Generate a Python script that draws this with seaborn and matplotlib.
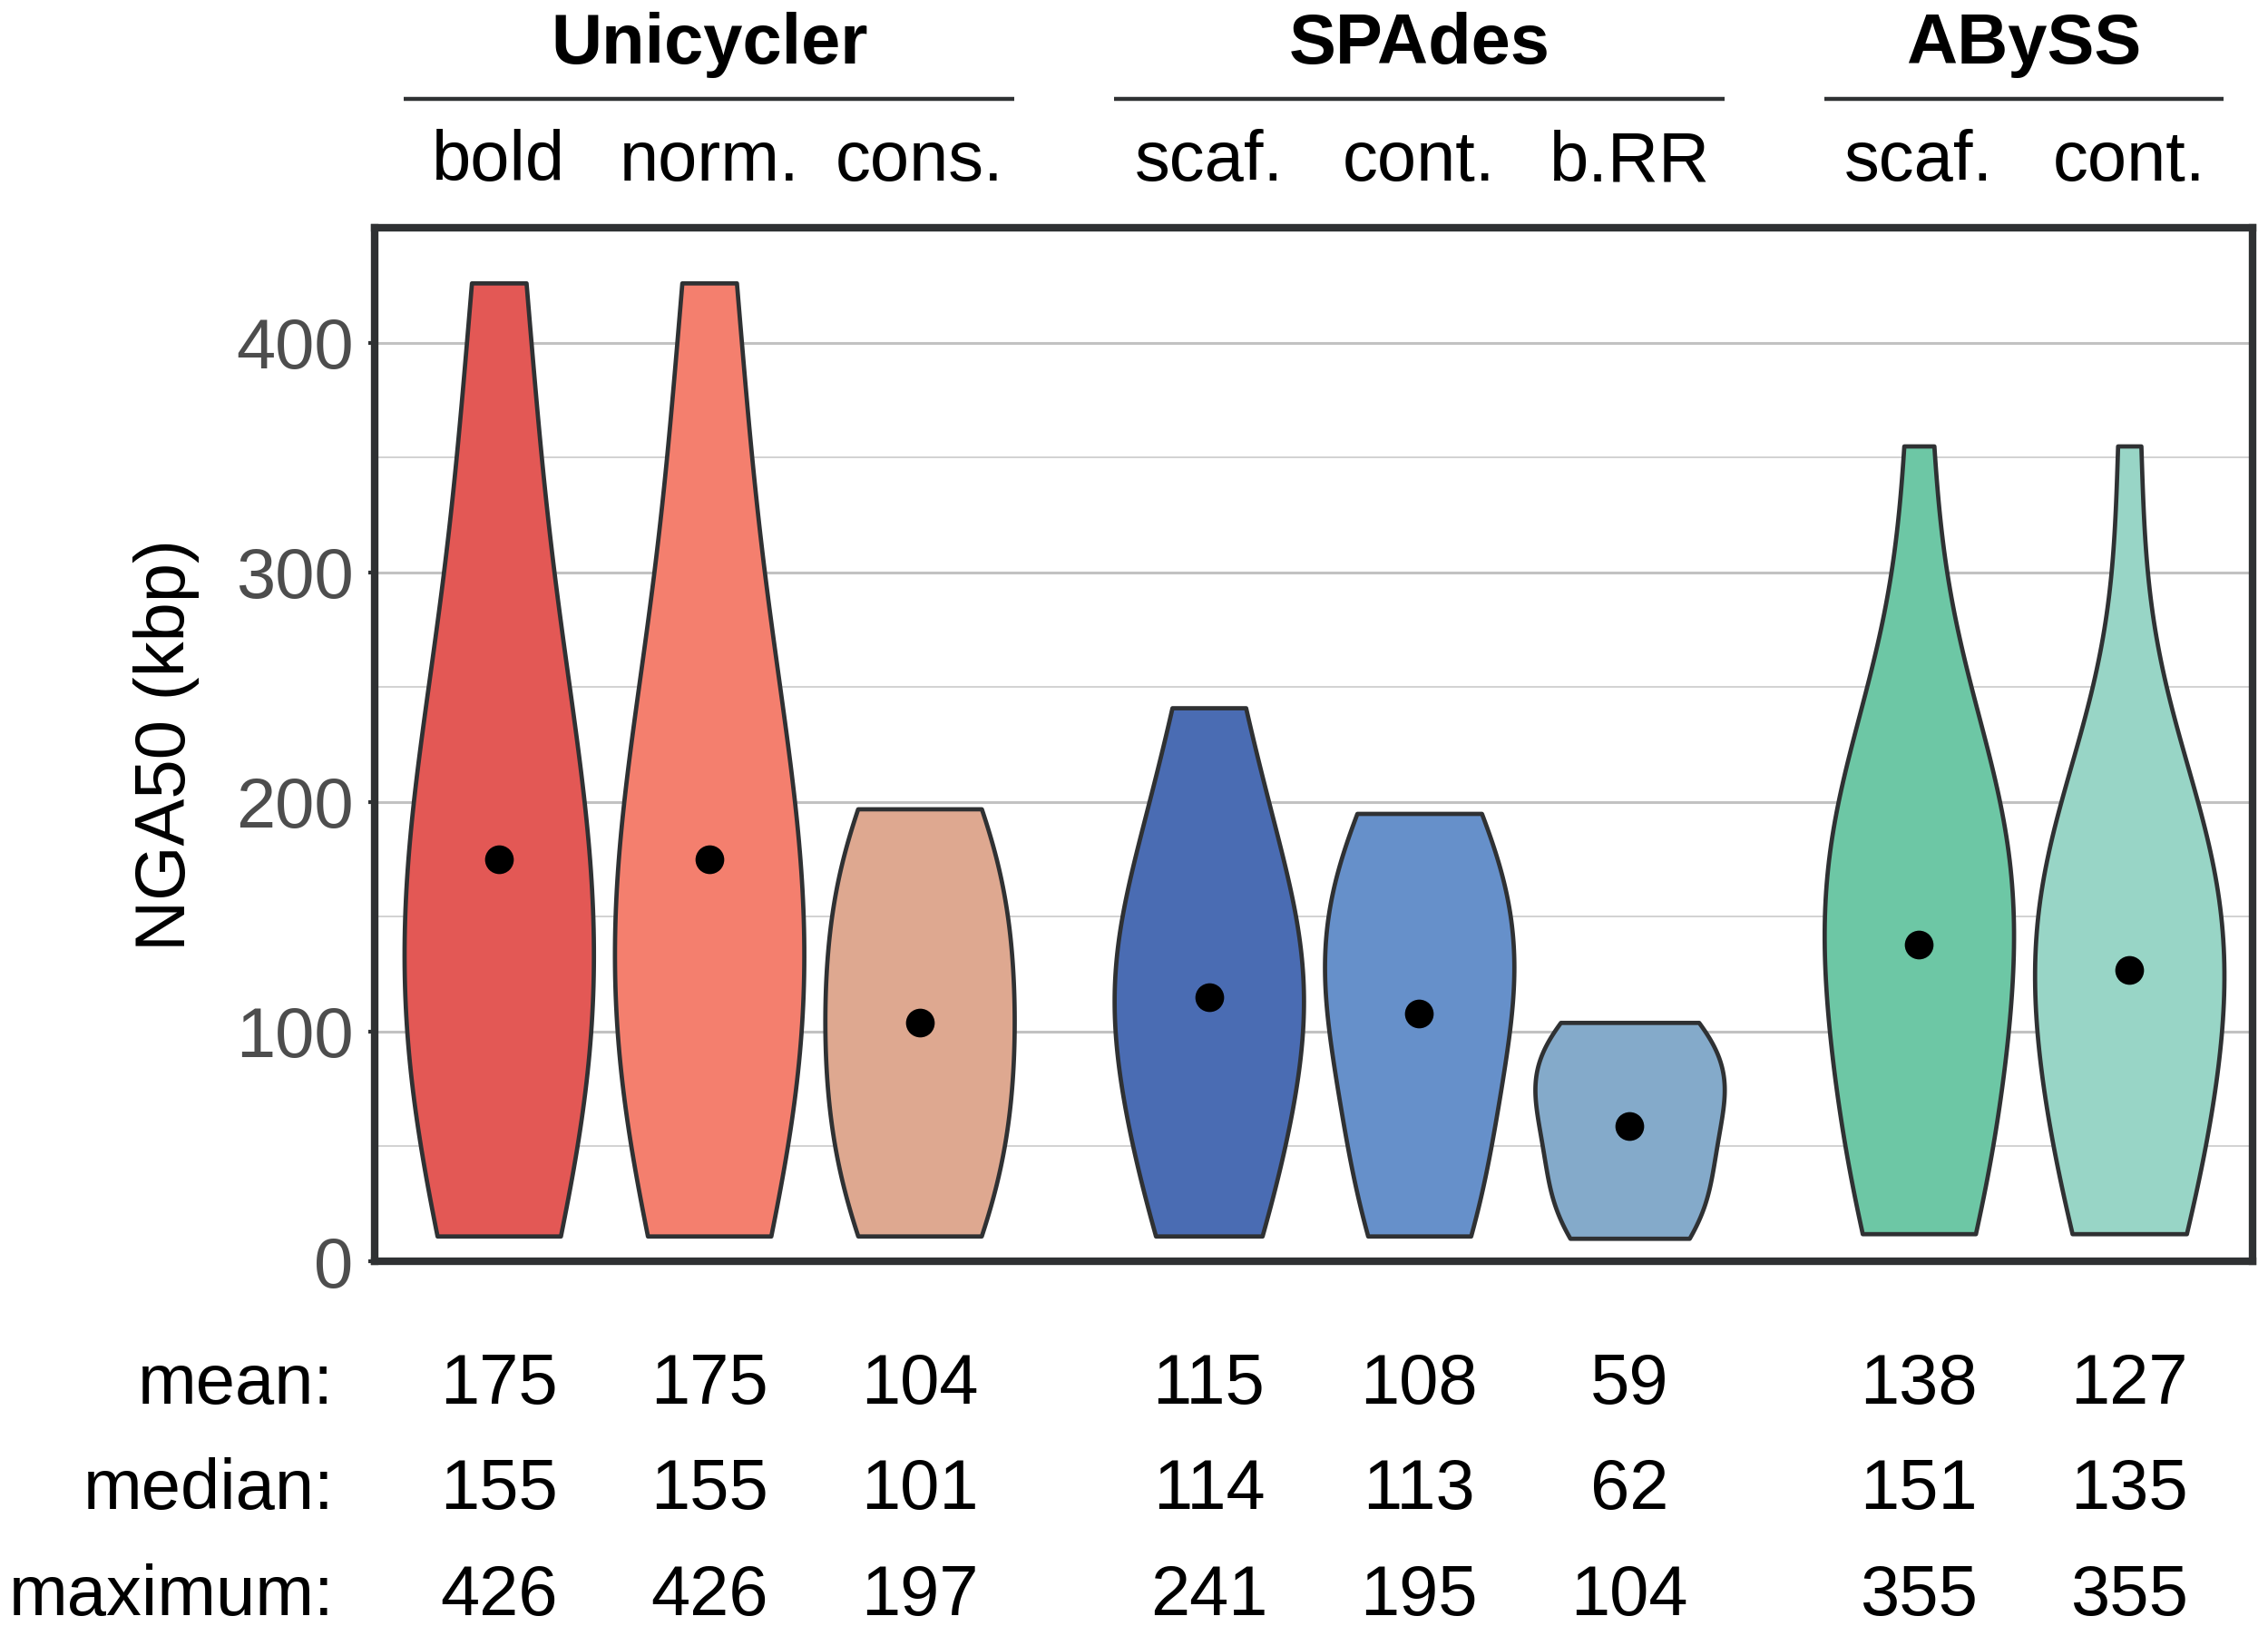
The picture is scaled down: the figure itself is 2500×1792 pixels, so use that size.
import numpy as np
import pandas as pd
import seaborn as sns
import matplotlib.pyplot as plt

# NGA50 values (kbp) per assembly
unicycler_bold = [11, 30, 50, 70, 95, 120, 140, 155, 170, 195, 220, 255, 300, 385, 426]
unicycler_norm = [11, 30, 50, 70, 95, 120, 140, 155, 170, 195, 220, 255, 300, 385, 426]
unicycler_cons = [11, 14, 25, 42, 62, 80, 92, 101, 114, 132, 150, 165, 180, 192, 197]
spades_scaf = [11, 16, 30, 52, 78, 98, 108, 114, 122, 135, 148, 165, 182, 225, 241]
spades_cont = [11, 15, 28, 48, 70, 94, 108, 113, 125, 135, 148, 162, 178, 190, 195]
spades_brr = [10, 12, 18, 26, 34, 42, 58, 62, 72, 79, 84, 88, 95, 101, 104]
abyss_scaf = [12, 18, 35, 55, 75, 100, 135, 151, 160, 170, 178, 190, 205, 230, 355]
abyss_cont = [12, 15, 30, 50, 70, 100, 120, 135, 140, 150, 160, 175, 188, 205, 355]

groups = ['Unicycler', 'SPAdes', 'ABySS']
group_members = [3, 3, 2]
sub_labels = ['bold', 'norm.', 'cons.', 'scaf.', 'cont.', 'b.RR', 'scaf.', 'cont.']
keys = ['uni_bold', 'uni_norm', 'uni_cons', 'spa_scaf', 'spa_cont', 'spa_brr', 'aby_scaf', 'aby_cont']
colors = ['#E35855', '#F47F6E', '#DEA890', '#4A6CB3', '#6690CA', '#84AACA', '#6DC7A5', '#98D5C6']

mean_vals = [175, 175, 104, 115, 108, 59, 138, 127]
median_vals = [155, 155, 101, 114, 113, 62, 151, 135]
max_vals = [426, 426, 197, 241, 195, 104, 355, 355]

# x positions: one unit within a group, wider gap between groups
positions = [0, 1, 2, 3.375, 4.375, 5.375, 6.75, 7.75]

series = [unicycler_bold, unicycler_norm, unicycler_cons, spades_scaf,
          spades_cont, spades_brr, abyss_scaf, abyss_cont]
df = pd.DataFrame({
    'pos': np.concatenate([[p] * len(s) for p, s in zip(positions, series)]),
    'nga50': np.concatenate(series),
    'assembly': np.concatenate([[k] * len(s) for k, s in zip(keys, series)]),
})

sns.set_style('white')
plt.rcParams['font.family'] = ['Liberation Sans', 'DejaVu Sans']
plt.rcParams['text.color'] = 'black'
FS = 56
EDGE = '#2F3133'

fig = plt.figure(figsize=(25, 17.92), dpi=100)
ax = fig.add_axes([0.1652, 0.2243, 0.828, 0.6356])

sns.violinplot(
    data=df, x='pos', y='nga50', hue='assembly', hue_order=keys,
    palette=dict(zip(keys, colors)), native_scale=True, dodge=False,
    cut=0, density_norm='width', inner=None, width=0.9, bw_adjust=1.3,
    linewidth=3.4, linecolor=EDGE, saturation=1, legend=False, ax=ax,
)
ax.scatter(positions, mean_vals, s=520, color='black', zorder=5, linewidths=0)

ax.set_xlim(-0.59, 8.336)
ax.set_ylim(0, 450)
ax.set_yticks([0, 100, 200, 300, 400])
ax.set_yticks([50, 150, 250, 350], minor=True)
ax.yaxis.grid(True, which='major', color='#C2C2C2', linewidth=2.2)
ax.yaxis.grid(True, which='minor', color='#D2D2D2', linewidth=1.4)
ax.xaxis.grid(False)
ax.set_axisbelow(True)
ax.set_xticks([])
ax.tick_params(axis='y', which='major', labelsize=FS, labelcolor='#4D4D4D',
               length=5, width=3, color=EDGE, pad=12, left=True)
ax.tick_params(axis='y', which='minor', length=0)
ax.set_xlabel('')
ax.set_ylabel('NGA50 (kbp)', fontsize=FS, color='black')
ax.yaxis.set_label_coords(-0.093, 0.5)
for sp in ax.spines.values():
    sp.set_visible(True)
    sp.set_color(EDGE)
    sp.set_linewidth(6)

tr = ax.get_xaxis_transform()

# sub-category labels above the panel
for p, lab in zip(positions, sub_labels):
    ax.text(p, 1.0457, lab, transform=tr, ha='center', va='baseline',
            fontsize=FS, color='black')

# assembler names with a rule underneath
start = 0
for g, n in zip(groups, group_members):
    x0 = positions[start] - 0.45
    x1 = positions[start + n - 1] + 0.45
    ax.plot([x0, x1], [1.1247, 1.1247], transform=tr, color=EDGE,
            linewidth=3.2, clip_on=False, solid_capstyle='butt')
    ax.text((x0 + x1) / 2, 1.159, g, transform=tr, ha='center', va='baseline',
            fontsize=FS, fontweight='bold', color='black')
    start += n

# summary table under the panel
rows = [('mean:', mean_vals, -0.1378), ('median:', median_vals, -0.2397),
        ('maximum:', max_vals, -0.3424)]
for name, vals, yy in rows:
    ax.text(-0.784, yy, name, transform=tr, ha='right', va='baseline',
            fontsize=FS, color='black')
    for p, v in zip(positions, vals):
        ax.text(p, yy, str(v), transform=tr, ha='center', va='baseline',
                fontsize=FS, color='black')

fig.savefig('out.png', dpi=100, facecolor='white')
